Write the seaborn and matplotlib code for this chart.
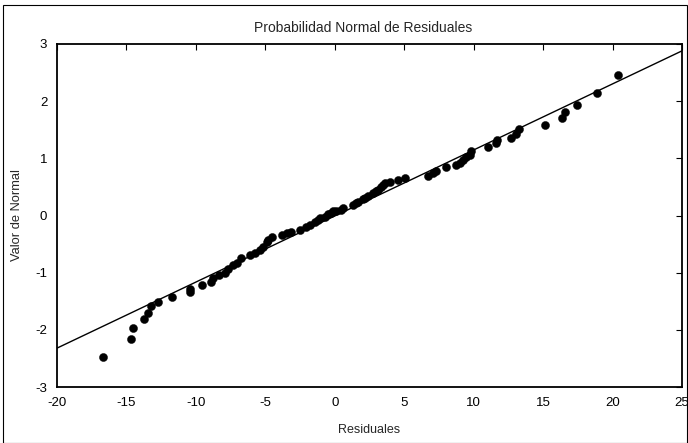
import matplotlib
matplotlib.use("Agg")
import matplotlib.pyplot as plt
import seaborn as sns
import pandas as pd
from matplotlib.patches import Rectangle

residuales = [-16.67, -14.68, -14.55, -13.74, -13.48, -13.26, -12.76, -11.75, -10.43, -10.43,
              -9.59, -8.94, -8.75, -8.32, -7.91, -7.72, -7.31, -7.07, -6.78, -6.11,
              -5.76, -5.40, -5.16, -4.91, -4.80, -4.55, -3.83, -3.47, -3.12, -2.52,
              -2.04, -1.80, -1.44, -1.20, -1.08, -0.72, -0.48, -0.30, -0.10, 0.12,
              0.48, 0.60, 1.32, 1.50, 1.68, 2.04, 2.20, 2.40, 2.76, 3.00,
              3.12, 3.36, 3.50, 3.60, 3.96, 4.56, 5.04, 6.71, 7.07, 7.32,
              8.04, 8.76, 9.00, 9.23, 9.47, 9.71, 9.83, 11.03, 11.63, 11.68,
              12.71, 13.07, 13.26, 15.16, 16.35, 16.55, 17.46, 18.90, 20.38]
valor_normal = [-2.47, -2.16, -1.96, -1.81, -1.71, -1.59, -1.52, -1.42, -1.34, -1.29,
                -1.21, -1.17, -1.10, -1.04, -1.00, -0.94, -0.87, -0.83, -0.75, -0.69,
                -0.66, -0.60, -0.55, -0.47, -0.43, -0.37, -0.34, -0.30, -0.28, -0.25,
                -0.20, -0.17, -0.11, -0.08, -0.05, -0.02, 0.02, 0.04, 0.07, 0.07,
                0.10, 0.13, 0.18, 0.21, 0.24, 0.28, 0.31, 0.34, 0.39, 0.42,
                0.45, 0.50, 0.53, 0.56, 0.59, 0.62, 0.65, 0.69, 0.74, 0.78,
                0.85, 0.88, 0.92, 0.97, 1.02, 1.06, 1.12, 1.19, 1.26, 1.32,
                1.36, 1.42, 1.51, 1.58, 1.71, 1.81, 1.94, 2.14, 2.46]
linea_x = [-20, 25]
linea_y = [-2.32, 2.88]
x_ticks = [-20, -15, -10, -5, 0, 5, 10, 15, 20, 25]
y_ticks = [-3, -2, -1, 0, 1, 2, 3]

sns.set_style("white")
plt.rcParams['font.family'] = ['Liberation Sans', 'DejaVu Sans']

df = pd.DataFrame({"Residuales": residuales, "Valor de Normal": valor_normal})

fig = plt.figure(figsize=(6.88, 4.43), dpi=100)
ax = fig.add_axes([57/688, 1-387/443, (682-57)/688, (387-44)/443])

ax.plot(linea_x, linea_y, color="black", linewidth=1.0)
sns.scatterplot(data=df, x="Residuales", y="Valor de Normal", ax=ax,
                color="black", s=34, edgecolor="black", linewidth=0.3, zorder=3)

ax.set_xlim(-20, 25)
ax.set_ylim(-3, 3)
ax.set_xticks(x_ticks)
ax.set_yticks(y_ticks)
ax.set_xticklabels([str(v) for v in x_ticks])
ax.set_yticklabels([str(v) for v in y_ticks])
ax.tick_params(direction="in", length=4, width=0.8, top=True, right=True,
               labelsize=9.5, colors="black", pad=7)
for sp in ax.spines.values():
    sp.set_color("black")
    sp.set_linewidth(1.3)

ax.set_xlabel("Residuales", fontsize=9, labelpad=11)
ax.set_ylabel("Valor de Normal", fontsize=9.3, labelpad=9)
ax.set_title("Probabilidad Normal de Residuales", fontsize=10, pad=9, x=0.49)

fig.patches.append(Rectangle((3/688, 0), 1 - 3/688 - 0.001, 1 - 5/443, transform=fig.transFigure,
                             fill=False, edgecolor="black", linewidth=0.8))

fig.savefig("out.png", dpi=100)
